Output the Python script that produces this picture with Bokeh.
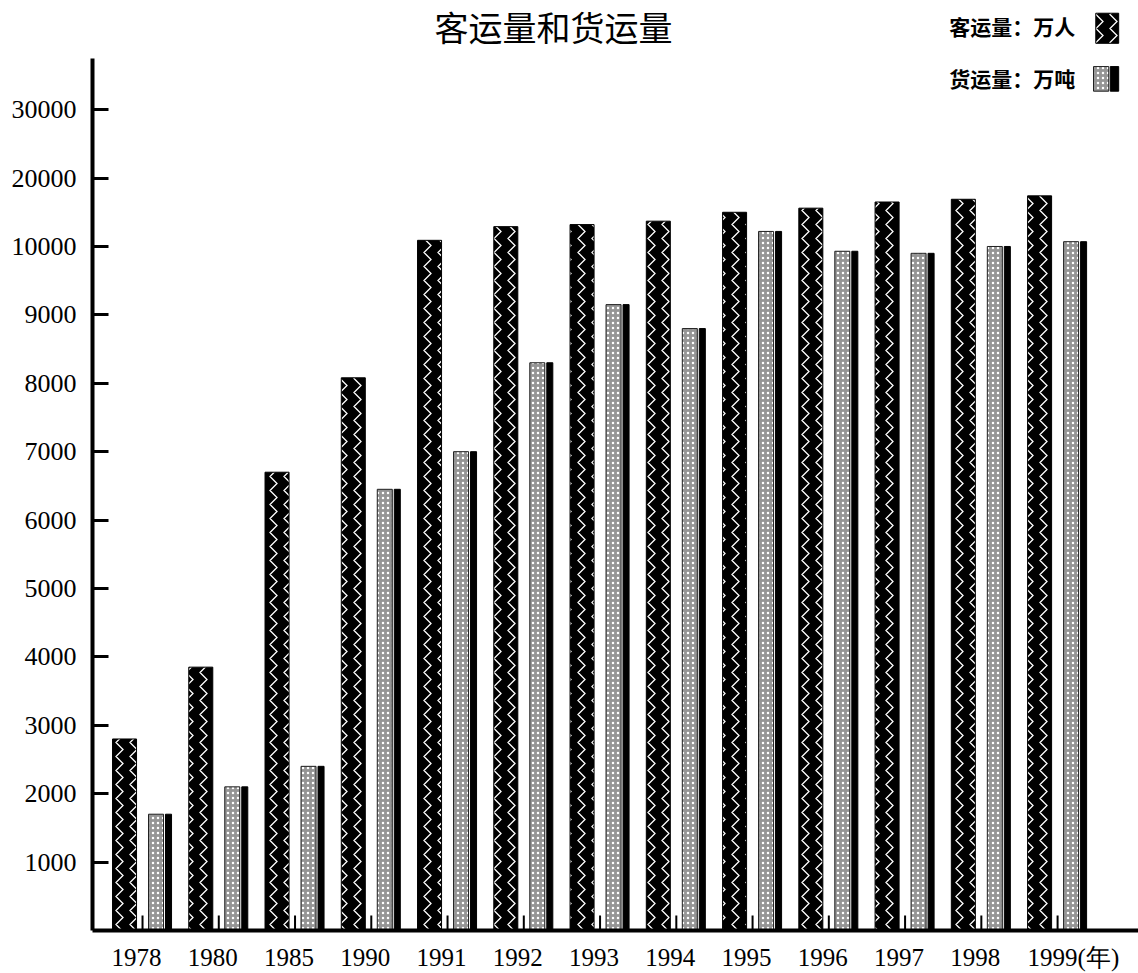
from bokeh.plotting import figure
from bokeh.models import Range1d, FixedTicker
from bokeh.embed import file_html
from bokeh.resources import INLINE
from bokeh.core.properties import value

# ---- data ----
years = ["1978", "1980", "1985", "1990", "1991", "1992", "1993",
         "1994", "1995", "1996", "1997", "1998", "1999"]
passengers = [2800, 3850, 6700, 8080, 10900, 12900, 13200,
              13700, 15000, 15600, 16500, 16900, 17400]   # 万人
freight = [1700, 2100, 2400, 6450, 7000, 8300, 9150,
           8800, 12200, 9930, 9900, 10000, 10700]           # 万吨
y_tick_values = [1000, 2000, 3000, 4000, 5000, 6000, 7000,
                 8000, 9000, 10000, 20000, 30000]
title_text = "客运量和货运量"
legend_labels = ["客运量：万人", "货运量：万吨"]
year_unit = "(年)"


def scale(v):
    """Broken value axis: linear to 10000, then one step per 10000."""
    return v / 1000.0 if v <= 10000 else 10.0 + (v - 10000) / 10000.0


idx = list(range(len(years)))
p_top = [scale(v) for v in passengers]
f_top = [scale(v) for v in freight]

CJK = value("Noto Sans CJK SC")

p = figure(width=1138, height=973, output_backend="svg", toolbar_location=None,
           x_range=Range1d(-0.577, 13.14), y_range=Range1d(0, 13.596),
           min_border_left=92, min_border_right=0, min_border_top=0,
           min_border_bottom=43)
p.outline_line_color = None
p.xgrid.visible = False
p.ygrid.visible = False
p.background_fill_color = "white"
p.border_fill_color = "white"

WAVE = dict(hatch_pattern="vertical_wave", hatch_color="white",
            hatch_scale=14, hatch_weight=1.3)
SPECKLE = dict(hatch_pattern="dot", hatch_color="white",
               hatch_scale=5, hatch_weight=1)

# passenger bars: black with white wave
p.vbar(x=[i - 0.157 for i in idx], top=p_top, bottom=0, width=0.315,
       fill_color="black", line_color="black", **WAVE)

# freight bars: textured grey part + black strip
p.vbar(x=[i + 0.256 for i in idx], top=f_top, bottom=0, width=0.197,
       fill_color="#959595", line_color="#202020", line_width=1, **SPECKLE)
p.vbar(x=[i + 0.42 for i in idx], top=f_top, bottom=0, width=0.079,
       fill_color="black", line_color="black")

# small marks between the bars
p.segment(x0=[i + 0.079 for i in idx], y0=[0] * len(idx),
          x1=[i + 0.079 for i in idx], y1=[0.22] * len(idx),
          line_color="black", line_width=2)

# x axis; the unit "(年)" follows the last year, padded so "1999" stays centred
xa = p.xaxis[0]
xa.ticker = FixedTicker(ticks=idx)
labels = list(years)
labels[-1] = "\u00a0" * 7 + years[-1] + year_unit
xa.major_label_overrides = {i: labels[i] for i in idx}
xa.major_tick_line_color = None
xa.minor_tick_line_color = None
xa.axis_line_width = 4
xa.axis_line_color = "black"
xa.major_label_text_font = "Liberation Serif"
xa.major_label_text_font_size = "25px"
xa.major_label_text_color = "black"
xa.major_label_standoff = 7

# y axis (broken scale)
ya = p.yaxis[0]
ticks = [int(round(scale(v))) for v in y_tick_values]
ya.ticker = FixedTicker(ticks=ticks)
ya.major_label_overrides = {t: str(v) for t, v in zip(ticks, y_tick_values)}
ya.bounds = (0, 12.75)
ya.axis_line_width = 4
ya.axis_line_color = "black"
ya.major_tick_in = 16
ya.major_tick_out = 0
ya.major_tick_line_width = 3
ya.minor_tick_line_color = None
ya.major_label_text_font = "Liberation Serif"
ya.major_label_text_font_size = "26px"
ya.major_label_text_color = "black"
ya.major_label_standoff = 16

# title
p.text(x=[5.47], y=[13.57], text=[title_text], text_font=CJK,
       text_font_size="34px", text_align="center", text_baseline="top",
       text_color="black")

# legend (text left of swatch)
p.text(x=[12.31, 12.31], y=[13.22, 12.46], text=legend_labels, text_font=CJK,
       text_font_size="21px", text_font_style="bold", text_align="right",
       text_baseline="middle", text_color="black")
p.quad(left=[12.58], right=[12.88], top=[13.41], bottom=[12.97],
       fill_color="black", line_color="black", **WAVE)
p.quad(left=[12.55], right=[12.75], top=[12.63], bottom=[12.27],
       fill_color="#959595", line_color="#202020", **SPECKLE)
p.quad(left=[12.77], right=[12.88], top=[12.63], bottom=[12.27],
       fill_color="black", line_color="black")

open("out.html", "w").write(file_html(p, INLINE))
